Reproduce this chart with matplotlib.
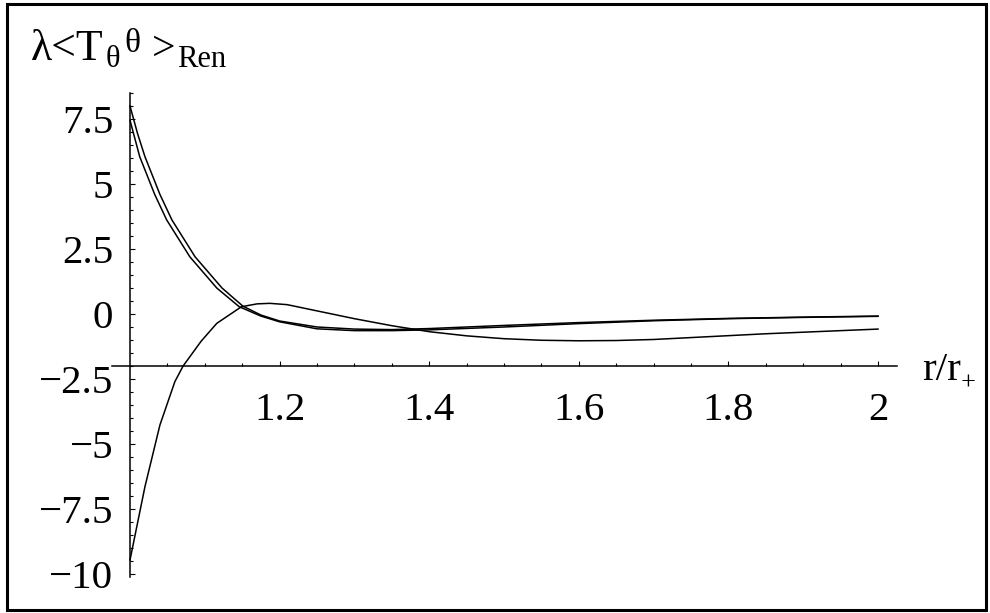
import matplotlib
matplotlib.use("Agg")
import matplotlib.pyplot as plt
from matplotlib.patches import Rectangle

plt.rcParams['font.family'] = ['Liberation Serif', 'DejaVu Serif']

# values
r_a = [1.0, 1.01, 1.02, 1.04, 1.056, 1.087, 1.123, 1.151, 1.175, 1.2, 1.25, 1.3, 1.35, 1.4, 1.5, 1.6, 1.7, 1.8, 1.9, 2.0]
t_a = [8.0, 6.95, 6.05, 4.6, 3.62, 2.2, 1.0, 0.3, -0.04, -0.27, -0.50, -0.58, -0.60, -0.56, -0.44, -0.33, -0.24, -0.17, -0.12, -0.08]

r_b = [1.0, 1.013, 1.033, 1.049, 1.08, 1.116, 1.146, 1.175, 1.2, 1.25, 1.3, 1.35, 1.4, 1.5, 1.6, 1.7, 1.8, 1.9, 2.0]
t_b = [7.45, 6.05, 4.6, 3.62, 2.2, 1.0, 0.28, -0.08, -0.30, -0.57, -0.64, -0.64, -0.61, -0.50, -0.37, -0.26, -0.18, -0.13, -0.09]

r_c = [1.0, 1.02, 1.04, 1.06, 1.071, 1.095, 1.116, 1.149, 1.17, 1.187, 1.21, 1.25, 1.3, 1.35, 1.4, 1.45, 1.5, 1.55, 1.6, 1.65, 1.7, 1.775, 1.85, 1.9, 2.0]
t_c = [-9.46, -6.64, -4.27, -2.6, -2.0, -1.05, -0.36, 0.28, 0.39, 0.41, 0.36, 0.12, -0.18, -0.45, -0.68, -0.84, -0.95, -1.01, -1.03, -1.02, -0.98, -0.87, -0.76, -0.70, -0.58]

x_major = [1.2, 1.4, 1.6, 1.8, 2.0]
x_labels = ["1.2", "1.4", "1.6", "1.8", "2"]
x_minor = [1.05, 1.1, 1.15, 1.25, 1.3, 1.35, 1.45, 1.5, 1.55, 1.65, 1.7, 1.75, 1.85, 1.9, 1.95]
y_major = [-10, -7.5, -5, -2.5, 0, 2.5, 5, 7.5]
y_labels = ["\u221210", "\u22127.5", "\u22125", "\u22122.5", "0", "2.5", "5", "7.5"]
y_minor = [v / 2 for v in range(-20, 18)]

fig = plt.figure(figsize=(9.9, 6.13), dpi=100)
ax = fig.add_axes([0, 0, 1, 1])
ax.set_xlim(1 - 130 / 748, 1 + 860 / 748)
ax.set_ylim(314 / 26 - 613 / 26, 314 / 26)
ax.patch.set_alpha(0)

for r, t in [(r_a, t_a), (r_b, t_b), (r_c, t_c)]:
    ax.plot(r, t, color="black", lw=1.1)

ax.spines['top'].set_visible(False)
ax.spines['right'].set_visible(False)
ax.spines['left'].set_position(('data', 1.0))
ax.spines['bottom'].set_position(('data', -2.0))
ax.spines['left'].set_bounds(-10.1, 8.5)
ax.spines['bottom'].set_bounds(0.976, 2.025)
for s in ['left', 'bottom']:
    ax.spines[s].set_linewidth(1.1)

ax.set_xticks(x_major, x_labels)
ax.set_xticks(x_minor, minor=True)
ax.set_yticks(y_major, y_labels)
ax.set_yticks(y_minor, minor=True)
ax.tick_params(which='both', direction='in', width=0.8, labelsize=29.5)
ax.tick_params(which='major', length=3.8)
ax.tick_params(which='minor', length=2.2)
ax.tick_params(axis='x', pad=19)
ax.tick_params(axis='y', pad=12)

# axis label pieces, positions in pixels from top-left
def put(x, y, s, size):
    fig.text(x / 990, 1 - y / 613, s, fontsize=size, ha='left', va='baseline')

put(31, 60, "\u03bb<T", 31.5)
put(106, 67, "\u03b8", 22)
put(124, 52, "\u03b8", 24)
put(152, 60, ">", 30)
put(177, 67, "Ren", 22)

put(922, 380, "r/r", 29.5)
put(961, 390, "+", 19)

fig.patches.append(Rectangle((6.5 / 990, 1 - 609.5 / 613), 979 / 990, 605.5 / 613,
                             transform=fig.transFigure, fill=False, lw=2.2,
                             edgecolor='black'))

fig.savefig("out.png", dpi=100)
plt.close(fig)
